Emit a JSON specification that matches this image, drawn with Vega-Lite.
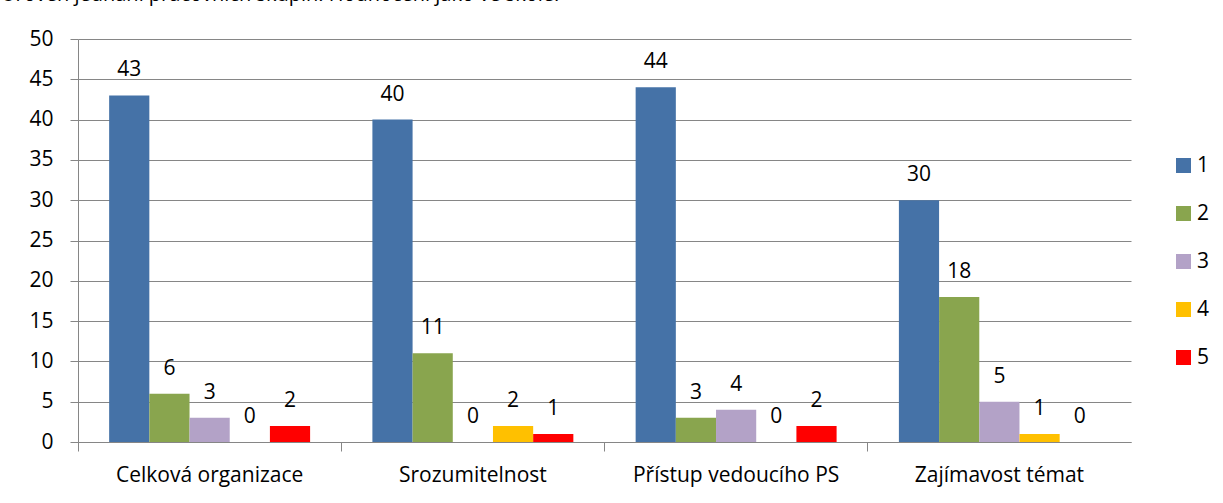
{
  "$schema": "https://vega.github.io/schema/vega-lite/v6.json",
  "width": 1053,
  "height": 403,
  "autosize": {"type": "none"},
  "padding": {"left": 78, "top": 39, "right": 92, "bottom": 61},
  "background": "white",
  "config": {
    "font": "Open Sans",
    "view": {"stroke": null},
    "axis": {"labelFont": "Open Sans", "labelColor": "black", "domainColor": "#868686", "tickColor": "#868686", "gridColor": "#868686", "gridOpacity": 1}
  },
  "title": {
    "text": "Úroveň jednání pracovních skupin. Hodnocení jako ve škole.",
    "anchor": "start",
    "frame": "group",
    "dx": -77,
    "offset": 0,
    "dy": -23,
    "fontSize": 20,
    "fontWeight": "normal",
    "font": "Open Sans",
    "color": "black"
  },
  "data": {
    "values": [
      {"cat": "Celková organizace", "grade": "1", "value": 43},
      {"cat": "Celková organizace", "grade": "2", "value": 6},
      {"cat": "Celková organizace", "grade": "3", "value": 3},
      {"cat": "Celková organizace", "grade": "4", "value": 0},
      {"cat": "Celková organizace", "grade": "5", "value": 2},
      {"cat": "Srozumitelnost", "grade": "1", "value": 40},
      {"cat": "Srozumitelnost", "grade": "2", "value": 11},
      {"cat": "Srozumitelnost", "grade": "3", "value": 0},
      {"cat": "Srozumitelnost", "grade": "4", "value": 2},
      {"cat": "Srozumitelnost", "grade": "5", "value": 1},
      {"cat": "Přístup vedoucího PS", "grade": "1", "value": 44},
      {"cat": "Přístup vedoucího PS", "grade": "2", "value": 3},
      {"cat": "Přístup vedoucího PS", "grade": "3", "value": 4},
      {"cat": "Přístup vedoucího PS", "grade": "4", "value": 0},
      {"cat": "Přístup vedoucího PS", "grade": "5", "value": 2},
      {"cat": "Zajímavost témat", "grade": "1", "value": 30},
      {"cat": "Zajímavost témat", "grade": "2", "value": 18},
      {"cat": "Zajímavost témat", "grade": "3", "value": 5},
      {"cat": "Zajímavost témat", "grade": "4", "value": 1},
      {"cat": "Zajímavost témat", "grade": "5", "value": 0}
    ]
  },
  "encoding": {
    "x": {
      "field": "cat", "type": "nominal", "sort": null,
      "scale": {"paddingInner": 0, "paddingOuter": 0},
      "axis": {"title": null, "labelAngle": 0, "labelFontSize": 21, "bandPosition": 0, "tickSize": 9, "labelPadding": 13, "grid": false, "labelAlign": "center", "labelBaseline": "top", "labelOffset": 0, "labelLimit": 400}
    },
    "xOffset": {
      "field": "grade", "type": "nominal",
      "scale": {"paddingInner": 0, "paddingOuter": 0.775}
    },
    "y": {
      "field": "value", "type": "quantitative",
      "scale": {"domain": [0, 50], "nice": false},
      "axis": {"title": null, "values": [0,5,10,15,20,25,30,35,40,45,50], "labelFontSize": 21, "tickSize": 8, "labelPadding": 17, "grid": true, "gridWidth": 1}
    }
  },
  "layer": [
    {
      "mark": {"type": "bar"},
      "encoding": {
        "color": {
          "field": "grade", "type": "nominal",
          "scale": {"domain": ["1","2","3","4","5"], "range": ["#4572A7", "#89A54E", "#B3A2C7", "#FFC000", "#FF0000"]},
          "legend": {"title": null, "orient": "none", "legendX": 1095, "legendY": 116, "symbolType": "square", "symbolSize": 225, "symbolStrokeWidth": 0, "labelFontSize": 21, "labelFont": "Open Sans", "rowPadding": 26, "labelOffset": 3}
        }
      }
    },
    {
      "mark": {"type": "text", "baseline": "alphabetic", "dy": -19, "fontSize": 21, "font": "Open Sans", "color": "black"},
      "encoding": {"text": {"field": "value", "type": "quantitative"}}
    }
  ]
}
